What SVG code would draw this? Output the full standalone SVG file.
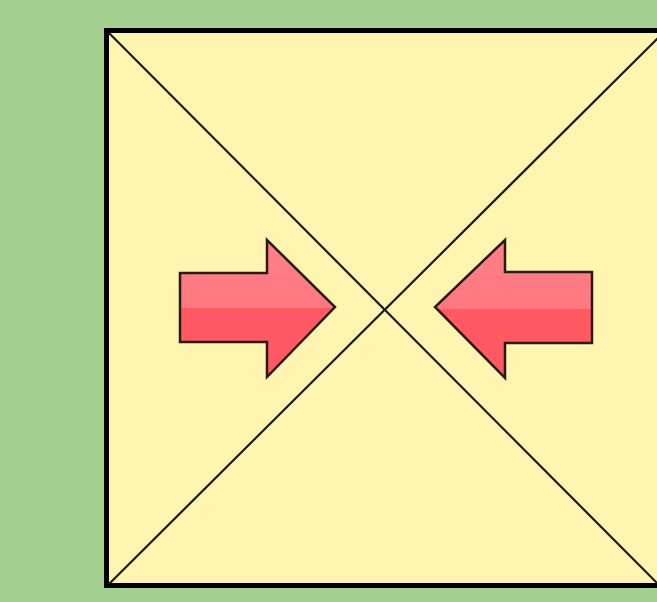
<svg xmlns="http://www.w3.org/2000/svg" width="657" height="602" viewBox="0 0 657 602">
<defs>
<style>
.frame{fill:#fff4b0;stroke:#000;stroke-width:5}
.diag{stroke:#1a1a1a;stroke-width:2.2;fill:none}
.arrow{stroke:#2a1a12;stroke-width:2.5;stroke-linejoin:miter}
</style>
<linearGradient id="ag" x1="0" y1="0" x2="0" y2="1">
<stop offset="0" stop-color="#ff8088"/>
<stop offset="0.5" stop-color="#ff7880"/>
<stop offset="0.5" stop-color="#ff5a64"/>
<stop offset="1" stop-color="#ff5a64"/>
</linearGradient>
</defs>
<rect width="657" height="602" fill="#a3d08e"/>
<g id="frame">
<rect class="frame" x="106.5" y="30.5" width="556" height="555"/>
</g>
<g id="connectors">
<line class="diag" x1="109" y1="33" x2="662" y2="588"/>
<line class="diag" x1="109" y1="584" x2="662" y2="34"/>
</g>
<g id="arrow-left">
<path class="arrow" fill="url(#ag)" d="M180,273 L267,273 L267,240 L335,307 L267,377 L267,342 L180,342 Z"/>
</g>
<g id="arrow-right">
<path class="arrow" fill="url(#ag)" d="M592,272 L505,272 L505,240 L435,307 L505,378 L505,343 L592,343 Z"/>
</g>
</svg>
